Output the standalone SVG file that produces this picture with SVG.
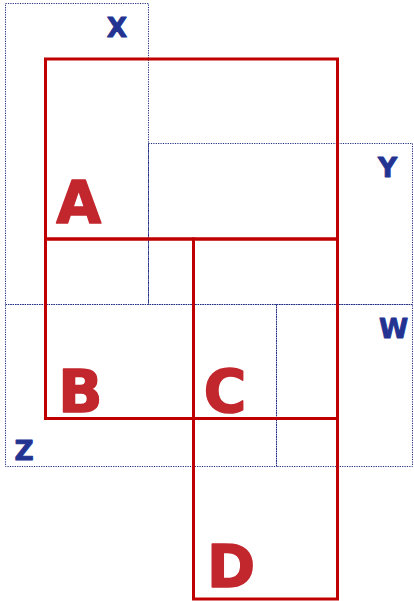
<svg xmlns="http://www.w3.org/2000/svg" width="414" height="601" viewBox="0 0 414 601">
<style>
.zone{fill:none;stroke:#1e2a80;stroke-width:1;stroke-dasharray:1.2 1.2}
.box{fill:none;stroke:#c00000;stroke-width:3}
.big{font-family:"DejaVu Sans",Verdana,sans-serif;font-weight:bold;font-size:58px;fill:#c1272d;stroke:#c1272d;stroke-width:1.6;stroke-linejoin:round;text-anchor:middle}
.small{font-family:"DejaVu Sans",Verdana,sans-serif;font-weight:bold;font-size:26.5px;fill:#223392;stroke:#223392;stroke-width:0.9;stroke-linejoin:round;text-anchor:middle}
</style>
<rect width="414" height="601" fill="#fff"/>
<g id="zones">
<g id="zone-x"><rect class="zone" x="5.5" y="3.5" width="143" height="301"/><text class="small" x="117" y="37">X</text></g>
<g id="zone-y"><rect class="zone" x="148.5" y="143.5" width="264" height="161"/><text class="small" x="387.5" y="177">Y</text></g>
<g id="zone-z"><rect class="zone" x="5.5" y="304.5" width="271" height="162"/><text class="small" x="24" y="460">Z</text></g>
<g id="zone-w"><rect class="zone" x="276.5" y="304.5" width="136" height="162"/><text class="small" x="393.5" y="338">W</text></g>
</g>
<g id="boxes">
<g id="box-a"><rect class="box" x="45.5" y="59" width="292" height="180"/><text class="big" x="78.7" y="222.5">A</text></g>
<g id="box-b"><rect class="box" x="45.5" y="239" width="148" height="179.5"/><text class="big" x="80.3" y="411.5">B</text></g>
<g id="box-c"><rect class="box" x="193.5" y="239" width="144" height="179.5"/><text class="big" x="225" y="411.5">C</text></g>
<g id="box-d"><rect class="box" x="193.5" y="418.5" width="144" height="180.5"/><text class="big" x="231" y="586.5">D</text></g>
</g>
<g id="connectors"/>
</svg>
